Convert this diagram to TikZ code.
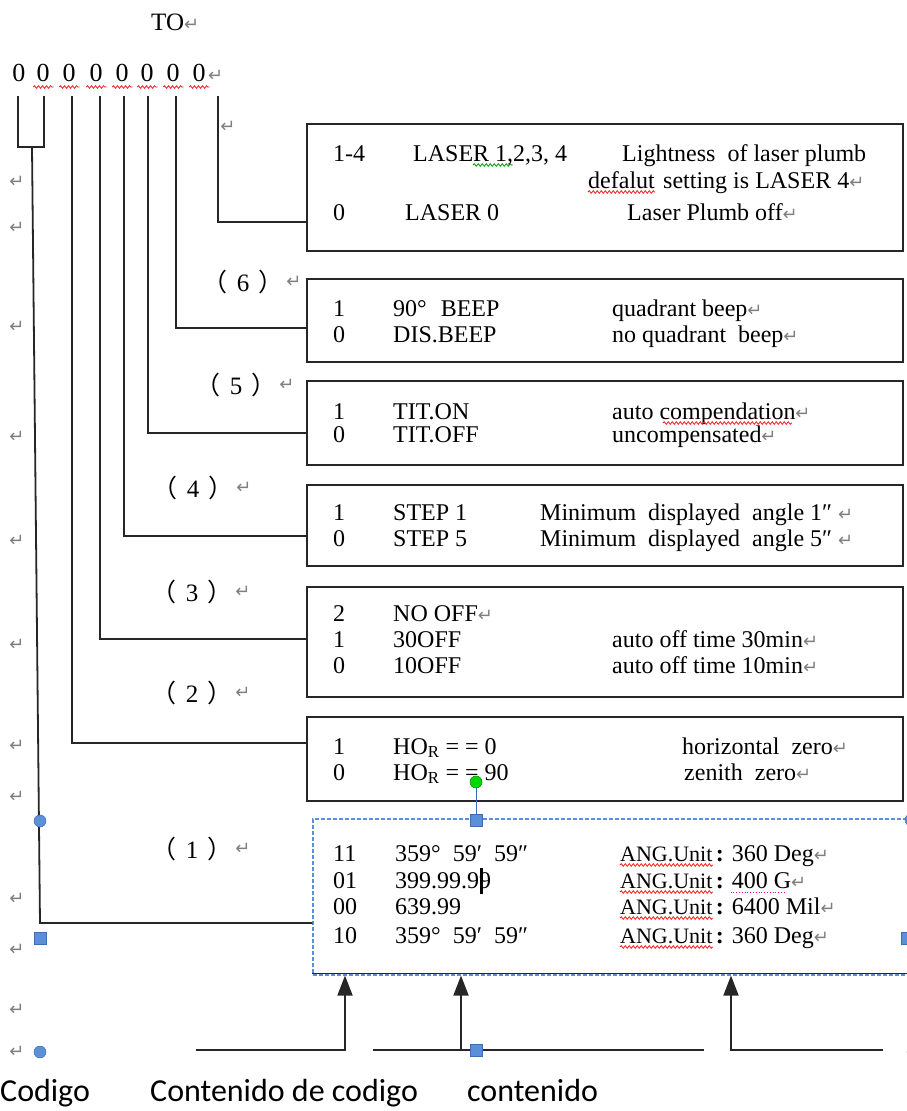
\documentclass[tikz,border=0pt]{standalone}
\usepackage{fontspec}
\setmainfont{Liberation Serif}
\newfontfamily\cjk{Noto Sans CJK SC}
\newfontfamily\symb{DejaVu Sans}
\newfontfamily\calib{Carlito}
\usetikzlibrary{positioning,arrows.meta,decorations.pathmorphing}

\definecolor{retgray}{HTML}{7F7F7F}
\definecolor{selblue}{HTML}{5B8FD8}
\definecolor{seledge}{HTML}{3E6DB5}
\newcommand{\ret}{{\symb\fontsize{18}{18}\selectfont\color{retgray}↵}}

\tikzset{
  txt/.style={anchor=base west, inner sep=0pt, font=\fontsize{24}{26}\selectfont},
  optbox/.style={draw=black!85, line width=1.8pt, inner sep=0pt, minimum width=596pt},
  wire/.style={draw=black!85, line width=1.8pt},
  upline/.style={wire, -{Triangle[length=20pt,width=15pt]}},
  redwave/.style={draw=red!90, line width=0.8pt, decorate, decoration={snake, amplitude=1.3pt, segment length=4pt}},
  greenwave/.style={redwave, draw=green!60!black},
  handle/.style={fill=selblue, draw=seledge, line width=0.5pt},
}

\begin{document}
\begin{tikzpicture}[x=1pt,y=-1pt]
\useasboundingbox (0,0) rectangle (907,1111);

% heading and the eight code digits
\node[txt, font=\fontsize{25}{26}\selectfont] (to) at (151,30) {TO\ret};
\foreach \x [count=\i] in {19,43,69,96,122,147,173,199} {
  \node[anchor=base, inner sep=0pt, font=\fontsize{26}{26}\selectfont] (z\i) at (\x,81) {0};
}
\node[txt] (zret) at (208,81) {\ret};
\foreach \i in {2,...,8} {
  \draw[redwave] ([xshift=-3pt,yshift=-6pt]z\i.base west) -- ([xshift=4pt,yshift=-6pt]z\i.base east);
}
\foreach \x [count=\i] in {18,44,72,100,124,148,176,218} {
  \coordinate (t\i) at (\x,96);
}

% option boxes
\node[optbox, minimum height=127pt] (laser) at (605,187.5) {};
\node[optbox, minimum height=83pt] (beep) at (605,320.5) {};
\node[optbox, minimum height=84pt] (tilt) at (605,423) {};
\node[optbox, minimum height=81pt] (stepbx) at (605,525.5) {};
\node[optbox, minimum height=110pt] (off) at (605,642) {};
\node[optbox, minimum height=84pt] (zero) at (605,759) {};
\node[draw=selblue, dash pattern=on 4pt off 2pt, line width=1.1pt, inner sep=0pt,
      minimum width=600pt, minimum height=156pt] (unit) at (613,897) {};
\draw[wire] ([yshift=2pt]unit.south west) -- ([yshift=2pt]unit.south east);

% connectors from the digits
\coordinate (fork) at (32,147);
\draw[wire] (t1) |- (fork) -| (t2);
\draw[wire] (fork) -- (40,923) -- (unit.west |- 0,923);
\draw[wire] (t3) |- (zero.west |- 0,743);
\draw[wire] (t4) |- (off.west |- 0,639);
\draw[wire] (t5) |- (stepbx.west |- 0,536);
\draw[wire] (t6) |- (tilt.west |- 0,433);
\draw[wire] (t7) |- (beep.west |- 0,328);
\draw[wire] (t8) |- (laser.west |- 0,222);
\node[anchor=center, inner sep=0pt] (r8) at (228,127) {\ret};

% laser box
\node[txt] (l1a) at (333,161) {1-4};
\node[txt] (l1b) at (413,161) {LASER 1,2,3, 4};
\node[txt] (l1c) at (622,161) {Lightness\ \ of laser plumb};
\node[txt] (l2a) at (588,188) {defalut};
\node[txt, base right=8pt of l2a] (l2b) {setting is LASER 4\ret};
\node[txt] (l3a) at (333,220) {0};
\node[txt] (l3b) at (405,220) {LASER 0};
\node[txt] (l3c) at (627,220) {Laser Plumb off\ret};
\draw[redwave] ([yshift=-4pt]l2a.base west) -- ([yshift=-4pt]l2a.base east);
\draw[greenwave] ([xshift=60pt,yshift=-4pt]l1b.base west) -- ([xshift=100pt,yshift=-4pt]l1b.base west);

% two column rows
\foreach \y/\c/\s/\xm/\m in {
    316/1/{90°\hspace{14pt}BEEP}/612/{quadrant beep\ret},
    342/0/DIS.BEEP/612/{no quadrant\ \ beep\ret},
    419/1/TIT.ON/612/{auto compendation\ret},
    442/0/TIT.OFF/612/{uncompensated\ret},
    520/1/{STEP 1}/540/{Minimum\ \ displayed\ \ angle 1″\ \ret},
    546/0/{STEP 5}/540/{Minimum\ \ displayed\ \ angle 5″\ \ret},
    621/2/{NO OFF\ret}/612/{},
    647/1/30OFF/612/{auto off time 30min\ret},
    673/0/10OFF/612/{auto off time 10min\ret},
    754/1/{HO\textsubscript{R} = = 0}/682/{horizontal\ \ zero\ret},
    780/0/{HO\textsubscript{R} = = 90}/684/{zenith\ \ zero\ret}} {
  \node[txt] (c\y) at (333,\y) {\c};
  \node[txt] (s\y) at (393,\y) {\s};
  \node[txt] (m\y) at (\xm,\y) {\m};
}
\draw[redwave] ([xshift=51pt,yshift=-4pt]m419.base west) -- ([xshift=-19pt,yshift=-4pt]m419.base east);

% angle unit box
\foreach \y/\c/\s/\u in {
    861/11/{359°\hspace{12pt}59′\hspace{12pt}59″}/{360 Deg},
    888/01/{399.99.99}/{400 G},
    914/00/{639.99}/{6400 Mil},
    943/10/{359°\hspace{12pt}59′\hspace{12pt}59″}/{360 Deg}} {
  \node[txt] (c\y) at (333,\y) {\c};
  \node[txt] (s\y) at (395,\y) {\s};
  \node[txt, font=\fontsize{22}{24}\selectfont] (a\y) at (620,\y) {ANG.Unit};
  \node[txt, base right=0pt of a\y] (v\y) {\hspace{3pt}{\bfseries :}\hspace{8pt}\u\ret};
  \draw[redwave] ([yshift=-4pt]a\y.base west) -- ([yshift=-4pt]a\y.base east);
}
\draw[magenta, line width=0.8pt, dotted] ([xshift=18pt,yshift=-4pt]v888.base west) -- ([xshift=-20pt,yshift=-4pt]v888.base east);
\fill (480,868) rectangle (483,894);

% field numbers
\foreach \n/\x/\y in {6/243/282, 5/236/385, 4/193/488, 3/192/592, 2/192/693, 1/192/849} {
  \node[inner sep=0pt, font=\fontsize{25}{26}\selectfont] (p\n) at (\x,\y) {{\cjk（}\hspace{9pt}\n\hspace{9pt}{\cjk）}};
  \node[inner sep=0pt] (pr\n) at (\x+51,\y) {\ret};
}
\foreach \y in {182,228,327,437,541,645,746,797,899,950,1010,1052} {
  \node[inner sep=0pt] (ret\y) at (17,\y) {\ret};
}

% selection handles
\filldraw[handle] (40,821) circle (6pt);
\filldraw[handle] (34,932) rectangle (46,944);
\draw[seledge, line width=0.8pt] (476,788) -- (476,814);
\filldraw[fill=green!85!black, draw=green!50!black, line width=0.5pt] (476,782) circle (6pt);
\filldraw[handle] (470,814) rectangle (482,826);
\filldraw[handle] (901,932) rectangle (913,944);
\filldraw[handle] (911,820) circle (6pt);

% legend arrows
\coordinate (h1) at (196,1050);
\coordinate (h2) at (373,1050);
\coordinate (h3) at (704,1050);
\coordinate (h4) at (883,1050);
\draw[upline] (h1) -| (unit.south -| 345,0);
\draw[wire] (h2) -- (h3);
\draw[upline] (461,1050) -- (unit.south -| 461,0);
\draw[upline] (h4) -| (unit.south -| 731,0);
\filldraw[handle] (470,1044) rectangle (482,1056);
\filldraw[handle] (40,1052) circle (6pt);
\filldraw[handle] (913,1052) circle (6pt);

\node[anchor=base west, inner sep=0pt, font=\calib\fontsize{32}{34}\selectfont] (codigo) at (0,1101) {Codigo};
\node[anchor=base west, inner sep=0pt, font=\calib\fontsize{32}{34}\selectfont] (contcod) at (150,1101) {Contenido de codigo};
\node[anchor=base west, inner sep=0pt, font=\calib\fontsize{32}{34}\selectfont] (cont) at (467,1101) {contenido};
\end{tikzpicture}
\end{document}
